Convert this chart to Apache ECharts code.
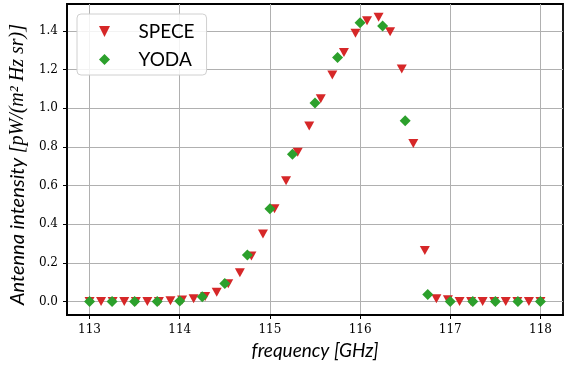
<!DOCTYPE html>
<html>
<head>
<meta charset="utf-8">
<script src="https://cdn.jsdelivr.net/npm/echarts@6/dist/echarts.min.js"></script>
<style>html,body{margin:0;padding:0;background:#fff}#c{width:572px;height:365px}</style>
</head>
<body>
<div id="c"></div>
<script>
// SPECE (red triangles)
const speceFreq = [113.000, 113.128, 113.256, 113.385, 113.513, 113.641, 113.769, 113.897, 114.026, 114.154,
  114.282, 114.410, 114.538, 114.667, 114.795, 114.923, 115.051, 115.179, 115.308, 115.436,
  115.564, 115.692, 115.821, 115.949, 116.077, 116.205, 116.333, 116.462, 116.590, 116.718,
  116.846, 116.974, 117.103, 117.231, 117.359, 117.487, 117.615, 117.744, 117.872, 118.000];
const speceVal = [0, 0, 0, 0, 0, 0, 0, 0.004, 0.008, 0.014,
  0.026, 0.048, 0.092, 0.149, 0.235, 0.349, 0.48, 0.625, 0.772, 0.908,
  1.05, 1.172, 1.289, 1.388, 1.453, 1.471, 1.396, 1.203, 0.818, 0.264,
  0.014, 0.009, 0, 0, 0, 0, 0, 0, 0, 0];
// YODA (green diamonds)
const yodaFreq = [113.00, 113.25, 113.50, 113.75, 114.00, 114.25, 114.50, 114.75, 115.00, 115.25,
  115.50, 115.75, 116.00, 116.25, 116.50, 116.75, 117.00, 117.25, 117.50, 117.75, 118.00];
const yodaVal = [0, 0, 0, 0, 0.003, 0.024, 0.093, 0.24, 0.48, 0.762,
  1.028, 1.263, 1.443, 1.426, 0.935, 0.036, 0, 0, 0, 0, 0];
// tick labels
const xTicks = [113, 114, 115, 116, 117, 118];
const yTicks = [0.0, 0.2, 0.4, 0.6, 0.8, 1.0, 1.2, 1.4];

const triDown = 'path://M0,0 L10,0 L5,10 Z';
const diamond = 'path://M5,0 L10,5 L5,10 L0,5 Z';
const serif = 'DejaVu Serif';
const sans = 'Lato';

const chart = echarts.init(document.getElementById('c'), null, {renderer: 'canvas'});
chart.setOption({
  animation: false,
  backgroundColor: '#fff',
  grid: {left: 66, right: 9, top: 4, bottom: 50, show: true, borderColor: '#000', borderWidth: 1.8, containLabel: false},
  legend: {
    orient: 'vertical', left: 77, top: 14,
    padding: [8, 12, 6, 22],
    itemWidth: 36, itemHeight: 11, itemGap: 9,
    symbolKeepAspect: true,
    backgroundColor: 'rgba(255,255,255,0.85)',
    borderColor: '#d0d0d0', borderWidth: 1, borderRadius: 4,
    textStyle: {fontFamily: sans, fontSize: 19, color: '#000', padding: [0, 0, 0, 11]},
    data: [{name: 'SPECE', icon: triDown}, {name: 'YODA', icon: diamond}]
  },
  xAxis: {
    type: 'value', min: 112.75, max: 118.25,
    name: 'frequency [GHz]', nameLocation: 'middle', nameGap: 26,
    nameTextStyle: {fontFamily: sans, fontStyle: 'italic', fontSize: 19, color: '#000'},
    axisLine: {show: true, onZero: false, lineStyle: {color: '#000', width: 1.8}},
    axisTick: {show: true, inside: false, length: 4, customValues: xTicks, lineStyle: {color: '#000', width: 1}},
    axisLabel: {customValues: xTicks, margin: 9, fontFamily: serif, fontSize: 12, color: '#000'},
    splitLine: {show: true, lineStyle: {color: '#b0b0b0', width: 1}}
  },
  yAxis: {
    type: 'value', min: -0.07, max: 1.54,
    name: '{a|Antenna intensity }{b|[pW/(m² Hz sr)]}', nameLocation: 'middle', nameGap: 39, nameRotate: 90,
    nameTextStyle: {
      color: '#000', padding: [0, 10, 0, 0],
      rich: {
        a: {fontFamily: sans, fontStyle: 'italic', fontSize: 20, color: '#000'},
        b: {fontFamily: 'Liberation Serif', fontStyle: 'italic', fontSize: 20, color: '#000'}
      }
    },
    axisLine: {show: true, onZero: false, lineStyle: {color: '#000', width: 1.8}},
    axisTick: {show: true, inside: false, length: 4, customValues: yTicks, lineStyle: {color: '#000', width: 1}},
    axisLabel: {customValues: yTicks, margin: 9, fontFamily: serif, fontSize: 12, color: '#000',
      formatter: v => v.toFixed(1)},
    splitLine: {show: true, lineStyle: {color: '#b0b0b0', width: 1}}
  },
  series: [
    {
      name: 'SPECE', type: 'scatter', symbol: triDown, symbolSize: [10, 9], symbolKeepAspect: false,
      itemStyle: {color: '#d62728', opacity: 1},
      data: speceFreq.map((f, i) => [f, speceVal[i]]), z: 3
    },
    {
      name: 'YODA', type: 'scatter', symbol: diamond, symbolSize: [11, 11],
      itemStyle: {color: '#2ca02c', opacity: 1},
      data: yodaFreq.map((f, i) => [f, yodaVal[i]]), z: 4
    }
  ]
});
</script>
</body>
</html>
